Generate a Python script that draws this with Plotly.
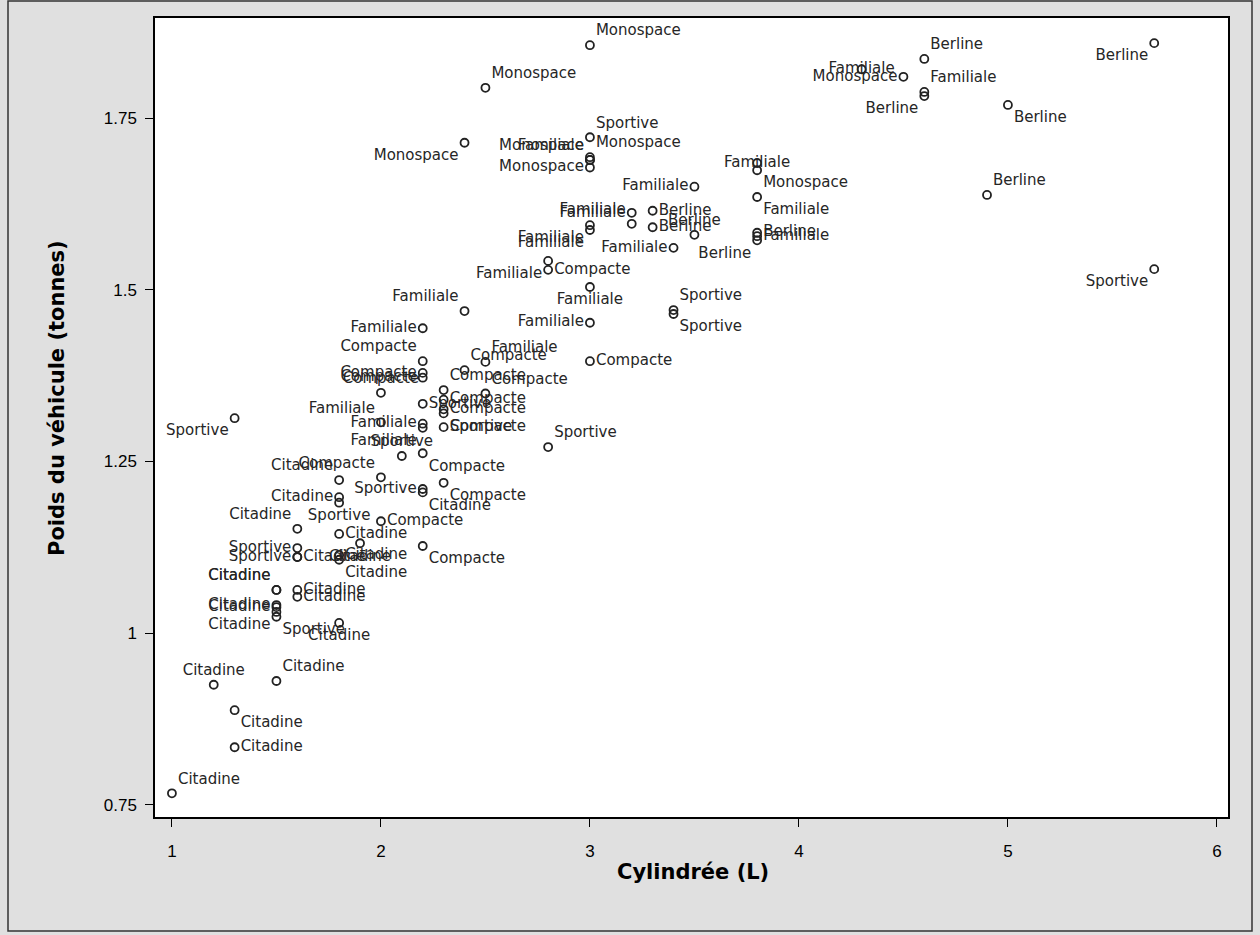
import plotly.graph_objects as go

# ---- data ----
cylindree = [
    3.0, 2.5, 2.4, 3.0, 3.0, 3.0, 3.8, 4.5,
    3.0, 4.3, 4.6, 3.8, 3.8, 3.8, 3.5, 3.2, 3.2, 3.0, 3.0, 3.4, 2.8, 3.0, 3.0, 2.4, 2.2, 2.5, 2.2, 2.2, 2.0,
    4.6, 4.6, 5.0, 5.7, 4.9, 3.3, 3.3, 3.5, 3.8, 3.8,
    5.7, 3.0, 3.4, 3.4, 1.3, 2.8, 2.2, 2.3, 2.1, 2.2, 1.8, 1.6, 1.6, 1.5,
    3.0, 2.4, 2.2, 2.2, 2.2, 2.0, 2.3, 2.5, 2.3, 2.3, 2.3, 2.2, 2.0, 2.3, 2.0, 2.2, 2.8,
    1.8, 1.8, 2.2, 1.6, 1.8, 1.9, 1.8, 1.8, 1.6, 1.5, 1.5, 1.6, 1.6, 1.5, 1.5, 1.5, 1.8, 1.2, 1.5, 1.3, 1.3, 1.0,
]
poids = [
    1.856, 1.794, 1.714, 1.693, 1.689, 1.678, 1.674, 1.810,
    1.689, 1.821, 1.788, 1.6845, 1.635, 1.578, 1.650, 1.612, 1.596, 1.594, 1.587, 1.561, 1.542, 1.504, 1.452, 1.469, 1.444, 1.395, 1.305, 1.299, 1.307,
    1.836, 1.782, 1.769, 1.859, 1.638, 1.615, 1.591, 1.580, 1.583, 1.572,
    1.530, 1.722, 1.4705, 1.4647, 1.313, 1.271, 1.334, 1.300, 1.258, 1.210, 1.190, 1.124, 1.111, 1.024,
    1.396, 1.383, 1.396, 1.379, 1.372, 1.350, 1.354, 1.349, 1.340, 1.326, 1.320, 1.262, 1.227, 1.219, 1.163, 1.127, 1.529,
    1.223, 1.198, 1.205, 1.152, 1.1445, 1.131, 1.114, 1.107, 1.111, 1.063, 1.063, 1.063, 1.053, 1.041, 1.038, 1.031, 1.015, 0.925, 0.9305, 0.888, 0.834, 0.767,
]
categorie = (
    ["Monospace"] * 8
    + ["Familiale"] * 21
    + ["Berline"] * 10
    + ["Sportive"] * 14
    + ["Compacte"] * 17
    + ["Citadine"] * 22
)

x_ticks = [1, 2, 3, 4, 5, 6]
y_ticks = [0.75, 1, 1.25, 1.5, 1.75]
y_tick_text = ["0.75", "1", "1.25", "1.5", "1.75"]
x_title = "Cylindrée (L)"
y_title = "Poids du véhicule (tonnes)"

# ---- label placement (style, kept apart from the data) ----
label_position = [
    "top right", "top right", "bottom left", "top right", "top left", "middle left", "bottom right", "middle left",
    "top left", "middle center", "top right", "middle center", "bottom right", "middle right", "middle left",
    "middle left", "top left", "bottom left", "bottom left", "middle left", "bottom left", "bottom center",
    "middle left", "top left", "middle left", "top right", "middle left", "bottom left", "top left",
    "top right", "bottom left", "bottom right", "bottom left", "top right", "middle right", "middle right",
    "top center", "middle right", "bottom left",
    "bottom left", "top right", "top right", "bottom right", "bottom left", "top right", "middle right",
    "middle right", "top center", "middle left", "bottom center", "middle left", "middle left", "bottom right",
    "middle right", "top right", "top left", "middle left", "middle left", "top center", "top right", "top right",
    "middle right", "middle right", "bottom right", "bottom right", "top left", "bottom right", "middle right",
    "bottom right", "middle right",
    "top left", "middle left", "bottom right", "top left", "middle right", "bottom center", "middle right",
    "bottom right", "middle right", "top left", "top left", "middle right", "middle right", "middle left",
    "middle left", "bottom left", "bottom center", "top center", "top right", "bottom right", "middle right",
    "top right",
]

fig = go.Figure()
fig.add_trace(go.Scatter(
    x=cylindree,
    y=poids,
    mode="markers+text",
    text=categorie,
    textposition=label_position,
    textfont=dict(family="DejaVu Sans", size=15, color="#262626"),
    marker=dict(symbol="circle-open", size=8, color="#222222", line=dict(width=1.8)),
    cliponaxis=False,
    hoverinfo="skip",
    showlegend=False,
))

W, H = 1260, 935
L, R, T, B = 155, 32, 18, 118
pw, ph = W - L - R, H - T - B

def px_x(p):
    return (p - L) / pw

def px_y(p):
    return (H - B - p) / ph

fig.update_layout(
    width=W,
    height=H,
    margin=dict(l=L, r=R, t=T, b=B),
    paper_bgcolor="#e0e0e0",
    plot_bgcolor="white",
    font=dict(family="Liberation Sans", color="black"),
    xaxis=dict(
        range=[0.919, 6.053],
        tickvals=x_ticks,
        ticks="outside", ticklen=8, tickwidth=1, tickcolor="black",
        ticklabelstandoff=10,
        tickfont=dict(size=17, family="Liberation Sans"),
        showgrid=False, zeroline=False,
        showline=True, linecolor="black", linewidth=1.5, mirror=True,
    ),
    yaxis=dict(
        range=[0.7325, 1.8956],
        tickvals=y_ticks,
        ticktext=y_tick_text,
        ticks="outside", ticklen=8, tickwidth=1, tickcolor="black",
        ticklabelstandoff=5,
        tickfont=dict(size=17, family="Liberation Sans"),
        showgrid=False, zeroline=False,
        showline=True, linecolor="black", linewidth=1.5, mirror=True,
    ),
    annotations=[
        dict(text="<b>" + x_title + "</b>", xref="paper", yref="paper",
             x=px_x(693), y=px_y(872), xanchor="center", yanchor="middle", showarrow=False,
             font=dict(family="DejaVu Sans", size=21, color="black")),
        dict(text="<b>" + y_title + "</b>", xref="paper", yref="paper",
             x=px_x(57), y=px_y(398), xanchor="center", yanchor="middle", showarrow=False,
             textangle=-90,
             font=dict(family="DejaVu Sans", size=21, color="black")),
    ],
    shapes=[dict(
        type="rect", xref="paper", yref="paper",
        x0=px_x(8), x1=px_x(1252), y0=px_y(931), y1=px_y(1),
        line=dict(color="#333333", width=1.5), fillcolor="rgba(0,0,0,0)", layer="below",
    )],
)

fig.write_html("out.html")
